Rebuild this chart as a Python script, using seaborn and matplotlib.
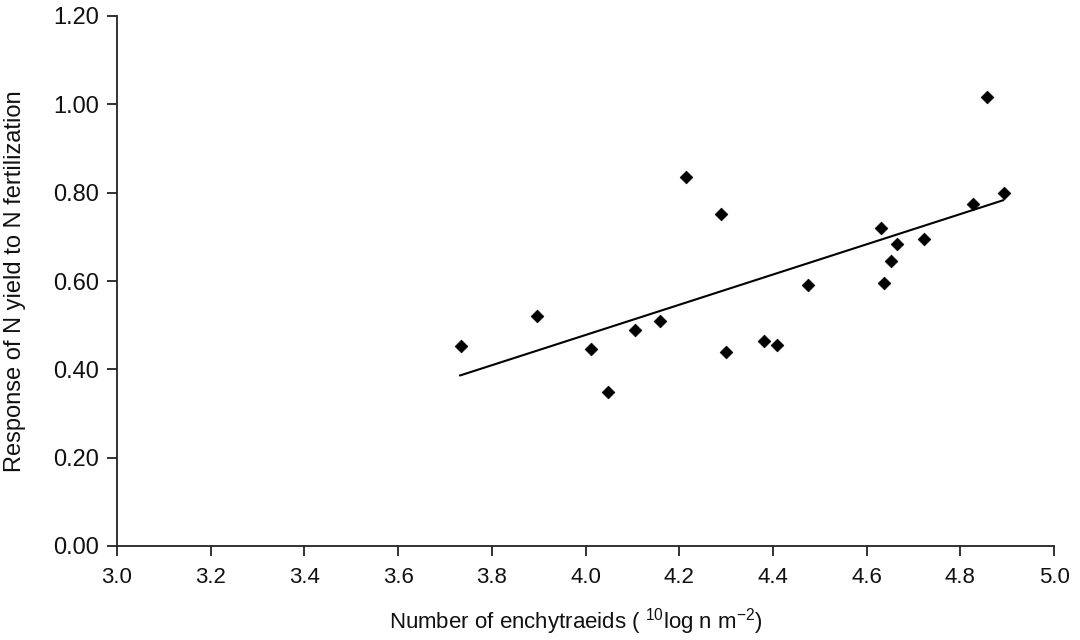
import matplotlib
matplotlib.use("Agg")
import matplotlib.pyplot as plt
import seaborn as sns
import pandas as pd

# Data
enchytraeids_log = [3.734, 3.896, 4.012, 4.048, 4.106, 4.160, 4.215, 4.289, 4.300, 4.381,
                    4.409, 4.474, 4.630, 4.637, 4.653, 4.664, 4.722, 4.828, 4.858, 4.893]
n_response = [0.453, 0.521, 0.446, 0.349, 0.488, 0.509, 0.835, 0.752, 0.439, 0.464,
              0.455, 0.592, 0.719, 0.596, 0.645, 0.683, 0.694, 0.774, 1.017, 0.799]
fit_x = [3.732, 4.892]
fit_y = [0.386, 0.783]
x_ticks = [3.0, 3.2, 3.4, 3.6, 3.8, 4.0, 4.2, 4.4, 4.6, 4.8, 5.0]
y_ticks = [0.00, 0.20, 0.40, 0.60, 0.80, 1.00, 1.20]

sns.set_theme(style="ticks")
plt.rcParams["font.family"] = ["Liberation Sans", "DejaVu Sans"]
plt.rcParams["mathtext.fontset"] = "custom"
plt.rcParams["mathtext.rm"] = "Liberation Sans"
plt.rcParams["mathtext.it"] = "Liberation Sans:italic"

df = pd.DataFrame({"x": enchytraeids_log, "y": n_response})
fit = pd.DataFrame({"x": fit_x, "y": fit_y})

fig = plt.figure(figsize=(10.8, 6.4), dpi=100)
ax = fig.add_axes([117 / 1080, 1 - 546 / 640, (1054 - 117) / 1080, (546 - 16) / 640])

sns.lineplot(data=fit, x="x", y="y", ax=ax, color="black", linewidth=1.5)
sns.scatterplot(data=df, x="x", y="y", ax=ax, marker="D", s=42, color="black",
                edgecolor="black", linewidth=0.5, zorder=3)

ax.set_xlim(3.0, 5.0)
ax.set_ylim(0.0, 1.2)
ax.set_xticks(x_ticks)
ax.set_xticklabels([f"{v:.1f}" for v in x_ticks])
ax.set_yticks(y_ticks)
ax.set_yticklabels([f"{v:.2f}" for v in y_ticks])

for s in ["top", "right"]:
    ax.spines[s].set_visible(False)
for s in ["left", "bottom"]:
    ax.spines[s].set_color("#222222")
    ax.spines[s].set_linewidth(1.3)

ax.tick_params(axis="both", direction="out", length=7, width=1.3, color="#222222",
               labelcolor="#111111")
ax.tick_params(axis="x", pad=8, labelsize=16)
ax.tick_params(axis="y", pad=6, labelsize=17)

ax.set_xlabel(r"Number of enchytraeids ( $^{10}$log n m$^{-2}$)", fontsize=16,
              color="#111111")
ax.set_ylabel("Response of N yield to N fertilization", fontsize=17,
              color="#111111")
ax.xaxis.set_label_coords((576 - 117) / 937, (546 - 622) / 530)
ax.xaxis.label.set_va("center")
ax.yaxis.set_label_coords((15 - 117) / 937, 0.5)
ax.yaxis.label.set_va("center")

fig.savefig("out.png", dpi=100, facecolor="white")
